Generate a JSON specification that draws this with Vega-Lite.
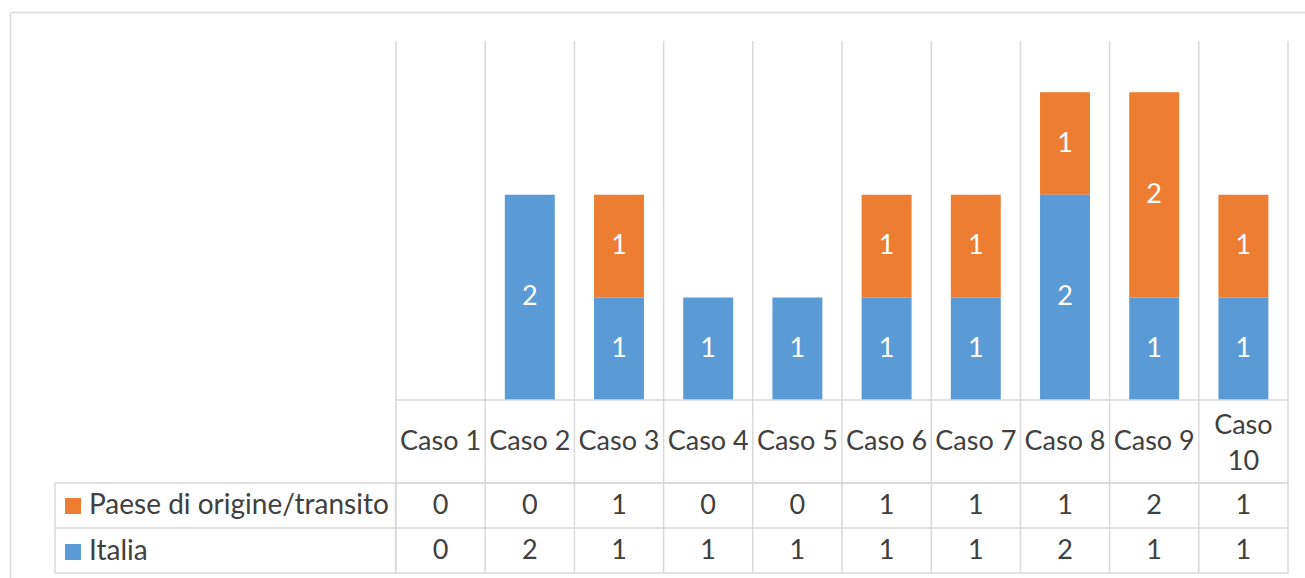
{
  "$schema": "https://vega.github.io/schema/vega-lite/v6.json",
  "padding": {"left": 10, "top": 12, "right": 0, "bottom": 0},
  "background": "white",
  "config": {
    "view": {"stroke": null},
    "font": "Lato",
    "text": {"font": "Lato"}
  },
  "data": {
    "values": [
      {"caso": "Caso 1", "serie": "Paese di origine/transito", "valore": 0},
      {"caso": "Caso 1", "serie": "Italia", "valore": 0},
      {"caso": "Caso 2", "serie": "Paese di origine/transito", "valore": 0},
      {"caso": "Caso 2", "serie": "Italia", "valore": 2},
      {"caso": "Caso 3", "serie": "Paese di origine/transito", "valore": 1},
      {"caso": "Caso 3", "serie": "Italia", "valore": 1},
      {"caso": "Caso 4", "serie": "Paese di origine/transito", "valore": 0},
      {"caso": "Caso 4", "serie": "Italia", "valore": 1},
      {"caso": "Caso 5", "serie": "Paese di origine/transito", "valore": 0},
      {"caso": "Caso 5", "serie": "Italia", "valore": 1},
      {"caso": "Caso 6", "serie": "Paese di origine/transito", "valore": 1},
      {"caso": "Caso 6", "serie": "Italia", "valore": 1},
      {"caso": "Caso 7", "serie": "Paese di origine/transito", "valore": 1},
      {"caso": "Caso 7", "serie": "Italia", "valore": 1},
      {"caso": "Caso 8", "serie": "Paese di origine/transito", "valore": 1},
      {"caso": "Caso 8", "serie": "Italia", "valore": 2},
      {"caso": "Caso 9", "serie": "Paese di origine/transito", "valore": 2},
      {"caso": "Caso 9", "serie": "Italia", "valore": 1},
      {"caso": "Caso 10", "serie": "Paese di origine/transito", "valore": 1},
      {"caso": "Caso 10", "serie": "Italia", "valore": 1}
    ]
  },
  "spacing": 0,
  "bounds": "flush",
  "vconcat": [
    {
      "width": 1295,
      "height": 29,
      "mark": {"type": "point", "opacity": 0},
      "encoding": {
        "x": {"field": "caso", "type": "nominal", "axis": {"orient": "top", "labels": false, "ticks": false, "title": null, "domainColor": "#D9D9D9", "domainWidth": 1.5}},
        "y": {"field": "serie", "type": "nominal", "axis": {"orient": "left", "labels": false, "ticks": false, "title": null, "domainColor": "#D9D9D9", "domainWidth": 1.5}}
      }
    },
    {
      "spacing": 0,
      "bounds": "flush",
      "hconcat": [
        {
          "width": 44.5,
          "height": 537,
          "mark": {"type": "point", "opacity": 0},
          "encoding": {
            "y": {"field": "serie", "type": "nominal", "axis": {"orient": "left", "labels": false, "ticks": false, "title": null, "domainColor": "#D9D9D9", "domainWidth": 1.5}}
          }
        },
        {
          "columns": 2,
          "spacing": 0,
          "bounds": "flush",
          "resolve": {"scale": {"color": "independent"}},
          "concat": [
            {
              "width": 340.5,
              "height": 359,
              "mark": {"type": "point", "opacity": 0},
              "encoding": {}
            },
            {
              "width": 892,
              "height": 359,
              "layer": [
                {
                  "transform": [{"filter": "datum.serie === 'Italia'"}],
                  "mark": {"type": "rule", "color": "#D9D9D9", "strokeWidth": 1.5},
                  "encoding": {
                    "x": {"field": "caso", "type": "nominal", "bandPosition": 0, "axis": null,
                      "scale": {"type": "band", "domain": ["Caso 1", "Caso 2", "Caso 3", "Caso 4", "Caso 5", "Caso 6", "Caso 7", "Caso 8", "Caso 9", "Caso 10"], "paddingInner": 0, "paddingOuter": 0}}
                  }
                },
                {
                  "transform": [{"filter": "datum.serie === 'Italia' && datum.caso === 'Caso 10'"}],
                  "mark": {"type": "rule", "color": "#D9D9D9", "strokeWidth": 1.5},
                  "encoding": {
                    "x": {"field": "caso", "type": "nominal", "bandPosition": 1, "axis": null}
                  }
                },
                {
                  "mark": {"type": "bar", "width": {"band": 0.56}},
                  "encoding": {
                    "x": {"field": "caso", "type": "nominal", "axis": null},
                    "y": {"field": "valore", "type": "quantitative", "stack": "zero", "axis": null, "scale": {"domain": [0, 3.5], "nice": false}},
                    "color": {"field": "serie", "type": "nominal", "legend": null,
                      "scale": {"domain": ["Paese di origine/transito", "Italia"], "range": ["#ED7D31", "#5B9BD5"]}},
                    "order": {"field": "serie", "sort": "ascending"}
                  }
                },
                {
                  "transform": [{"filter": "datum.valore > 0"}],
                  "mark": {"type": "text", "color": "white", "fontSize": 27},
                  "encoding": {
                    "x": {"field": "caso", "type": "nominal", "axis": null},
                    "y": {"field": "valore", "type": "quantitative", "stack": "zero", "bandPosition": 0.5},
                    "detail": {"field": "serie"},
                    "order": {"field": "serie", "sort": "ascending"},
                    "text": {"field": "valore", "type": "quantitative"}
                  }
                }
              ]
            },
            {
              "width": 340.5,
              "height": 83,
              "mark": {"type": "point", "opacity": 0},
              "encoding": {}
            },
            {
              "width": 892,
              "height": 83,
              "view": {"stroke": "#D9D9D9", "strokeWidth": 1.5},
              "transform": [{"filter": "datum.serie === 'Italia'"}],
              "layer": [
                {
                  "transform": [{"filter": "datum.caso !== 'Caso 1'"}],
                  "mark": {"type": "rule", "color": "#D9D9D9", "strokeWidth": 1.5},
                  "encoding": {
                    "x": {"field": "caso", "type": "nominal", "bandPosition": 0, "axis": null,
                      "scale": {"type": "band", "domain": ["Caso 1", "Caso 2", "Caso 3", "Caso 4", "Caso 5", "Caso 6", "Caso 7", "Caso 8", "Caso 9", "Caso 10"], "paddingInner": 0, "paddingOuter": 0}}
                  }
                },
                {
                  "transform": [{"filter": "datum.caso !== 'Caso 10'"}],
                  "mark": {"type": "text", "fontSize": 27, "color": "#404040"},
                  "encoding": {
                    "x": {"field": "caso", "type": "nominal", "axis": null},
                    "text": {"field": "caso", "type": "nominal"}
                  }
                },
                {
                  "transform": [{"filter": "datum.caso === 'Caso 10'"}],
                  "mark": {"type": "text", "fontSize": 27, "color": "#404040", "lineHeight": 36, "dy": -16},
                  "encoding": {
                    "x": {"field": "caso", "type": "nominal", "axis": null},
                    "text": {"value": ["Caso", "10"]}
                  }
                }
              ]
            },
            {
              "width": 340.5,
              "height": 90,
              "view": {"stroke": "#D9D9D9", "strokeWidth": 1.5},
              "layer": [
                {
                  "transform": [{"filter": "datum.caso === 'Caso 1' && datum.serie === 'Italia'"}],
                  "mark": {"type": "rule", "color": "#D9D9D9", "strokeWidth": 1.5},
                  "encoding": {
                    "y": {"field": "serie", "type": "nominal", "bandPosition": 0, "axis": null,
                      "scale": {"type": "band", "domain": ["Paese di origine/transito", "Italia"], "paddingInner": 0, "paddingOuter": 0}}
                  }
                },
                {
                  "transform": [{"filter": "datum.caso === 'Caso 1'"}],
                  "mark": {"type": "square", "opacity": 0},
                  "encoding": {
                    "color": {"field": "serie", "type": "nominal",
                      "scale": {"domain": ["Paese di origine/transito", "Italia"], "range": ["#ED7D31", "#5B9BD5"]},
                      "legend": {"orient": "none", "legendX": 4, "legendY": 9, "title": null, "symbolType": "square", "symbolSize": 256, "symbolOpacity": 1, "symbolStrokeWidth": 0, "labelFontSize": 28, "labelFont": "Lato", "labelColor": "#404040", "labelOffset": 2, "rowPadding": 18, "padding": 0, "labelLimit": 400}}
                  }
                }
              ]
            },
            {
              "width": 892,
              "height": 90,
              "view": {"stroke": "#D9D9D9", "strokeWidth": 1.5},
              "layer": [
                {
                  "transform": [{"filter": "datum.serie === 'Italia' && datum.caso !== 'Caso 1'"}],
                  "mark": {"type": "rule", "color": "#D9D9D9", "strokeWidth": 1.5},
                  "encoding": {
                    "x": {"field": "caso", "type": "nominal", "bandPosition": 0, "axis": null,
                      "scale": {"type": "band", "domain": ["Caso 1", "Caso 2", "Caso 3", "Caso 4", "Caso 5", "Caso 6", "Caso 7", "Caso 8", "Caso 9", "Caso 10"], "paddingInner": 0, "paddingOuter": 0}}
                  }
                },
                {
                  "transform": [{"filter": "datum.caso === 'Caso 1' && datum.serie === 'Italia'"}],
                  "mark": {"type": "rule", "color": "#D9D9D9", "strokeWidth": 1.5},
                  "encoding": {
                    "y": {"field": "serie", "type": "nominal", "bandPosition": 0, "axis": null,
                      "scale": {"type": "band", "domain": ["Paese di origine/transito", "Italia"], "paddingInner": 0, "paddingOuter": 0}}
                  }
                },
                {
                  "mark": {"type": "text", "fontSize": 27, "color": "#404040"},
                  "encoding": {
                    "x": {"field": "caso", "type": "nominal", "axis": null},
                    "y": {"field": "serie", "type": "nominal", "axis": null},
                    "text": {"field": "valore", "type": "quantitative"}
                  }
                }
              ]
            }
          ]
        }
      ]
    }
  ]
}
